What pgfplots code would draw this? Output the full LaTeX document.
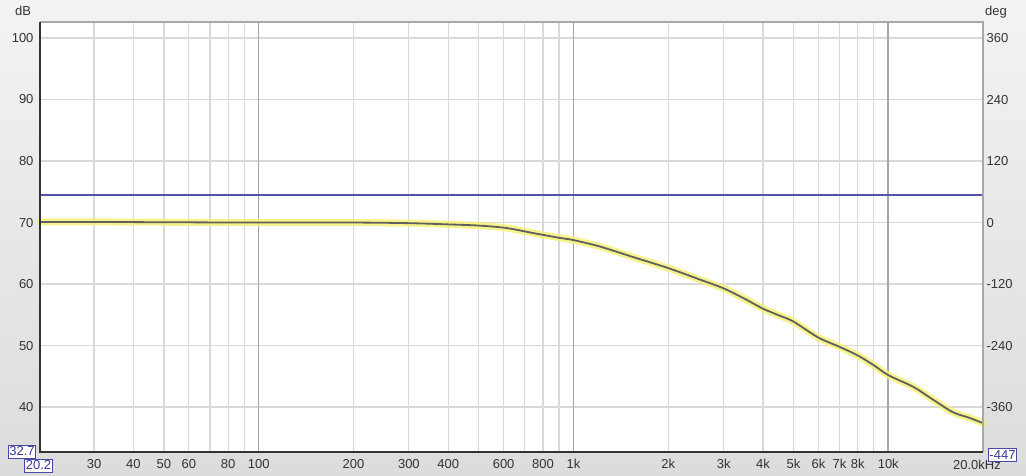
\documentclass[border=0pt]{standalone}
\usepackage{fontspec}
\setmainfont{Liberation Sans}
\usepackage{pgfplots}
\usepackage{pgfplotstable}
\pgfplotsset{compat=1.18}
\definecolor{bgtop}{HTML}{F3F3F3}
\definecolor{bgbot}{HTML}{DCDCDC}
\definecolor{gridlight}{HTML}{D9D9D9}
\definecolor{griddark}{HTML}{A6A6A6}
\definecolor{framedark}{HTML}{333333}
\definecolor{framegray}{HTML}{A8A8A8}
\definecolor{labelgray}{HTML}{333333}
\definecolor{blueline}{HTML}{5252AA}
\definecolor{boxblue}{HTML}{4848A8}
\definecolor{boxtext}{HTML}{3A3A9A}
\definecolor{glow}{HTML}{F6F070}
\definecolor{curve}{HTML}{606060}
\pgfplotstableread{
f db
20.2 70.1
30 70.1
50 70.05
100 70.0
200 70.0
300 69.9
400 69.7
504 69.5
615 69.1
743 68.3
906 67.5
1000 67.15
1214 66.1
1545 64.4
2000 62.6
2500 60.8
3000 59.3
3500 57.6
4000 56.0
4500 54.9
5000 53.9
6000 51.3
7000 49.8
8000 48.4
9000 46.8
10000 45.2
12000 43.3
13700 41.4
16000 39.2
18000 38.3
20000 37.4
}\resp
\begin{document}
\begin{tikzpicture}[x=1pt,y=1pt]
\shade[top color=bgtop,bottom color=bgbot] (0,0) rectangle (1026,475);
\begin{axis}[
  at={(40pt,23pt)}, anchor=south west,
  scale only axis, width=943pt, height=430pt,
  xmode=log, xmin=20.2, xmax=20000, ymin=32.7, ymax=102.6,
  axis background/.style={fill=white},
  axis line style={draw=none},
  clip=false,
  xtick={30,40,50,60,70,80,90,200,300,400,500,600,700,800,900,2000,3000,4000,5000,6000,7000,8000,9000},
  xticklabels={30,40,50,60,,80,,200,300,400,,600,,800,,2k,3k,4k,5k,6k,7k,8k,},
  extra x ticks={100,1000,10000},
  extra x tick labels={100,1k,10k},
  extra x tick style={major grid style={draw=griddark, line width=1.6pt}},
  ytick={40,50,60,70,80,90,100},
  grid=major,
  major grid style={draw=gridlight, line width=1.2pt},
  major tick length=0pt,
  tick label style={font=\fontsize{13}{15}\selectfont, text=labelgray},
  xticklabel style={yshift=-4pt},
  yticklabel style={xshift=-3pt},
  /pgf/number format/assume math mode=true,
]
\addplot[blueline, line width=2pt] coordinates {(20.2,74.5) (20000,74.5)};
\addplot[glow, line width=7pt, opacity=0.8, smooth, line cap=round] table[x=f,y=db] {\resp};
\addplot[curve, line width=1.8pt, smooth] table[x=f,y=db] {\resp};
\draw[framegray, line width=1.6pt] (rel axis cs:0,1) -- (rel axis cs:1,1) -- (rel axis cs:1,0);
\draw[framedark, line width=1.8pt] (rel axis cs:0,1) -- (rel axis cs:0,0) -- (rel axis cs:1,0);
\node[anchor=north, font=\fontsize{13}{15}\selectfont, text=labelgray, yshift=-4pt, inner sep=4.333pt] at ([xshift=-6pt]rel axis cs:1,0) {20.0kHz};
\end{axis}
\begin{axis}[
  at={(40pt,23pt)}, anchor=south west,
  scale only axis, width=943pt, height=430pt,
  xmode=log, xmin=20.2, xmax=20000, ymin=-447, ymax=392,
  hide x axis,
  axis y line*=right,
  axis line style={draw=none},
  ytick={-360,-240,-120,0,120,240,360},
  major tick length=0pt,
  tick label style={font=\fontsize{13}{15}\selectfont, text=labelgray},
  /pgf/number format/assume math mode=true,
]
\addplot[draw=none] coordinates {(100,0)};
\end{axis}
\node[font=\fontsize{13}{15}\selectfont, text=labelgray] at (23,464) {dB};
\node[font=\fontsize{13}{15}\selectfont, text=labelgray] at (996,463) {deg};
\node[draw=boxblue, fill=white, line width=0.8pt, text=boxtext, font=\fontsize{13}{15}\selectfont, inner xsep=1pt, inner ysep=0.5pt, minimum height=13pt] at (22,23.5) {32.7};
\node[draw=boxblue, fill=white, line width=0.8pt, text=boxtext, font=\fontsize{13}{15}\selectfont, inner xsep=1pt, inner ysep=0.5pt, minimum height=13pt] at (38.5,9.5) {20.2};
\node[draw=boxblue, fill=white, line width=0.8pt, text=boxtext, font=\fontsize{13}{15}\selectfont, inner xsep=1pt, inner ysep=0.5pt, minimum height=13pt] at (1002.5,20) {-447};
\pgfresetboundingbox
\useasboundingbox (0,0) rectangle (1026,475);
\end{tikzpicture}
\end{document}
